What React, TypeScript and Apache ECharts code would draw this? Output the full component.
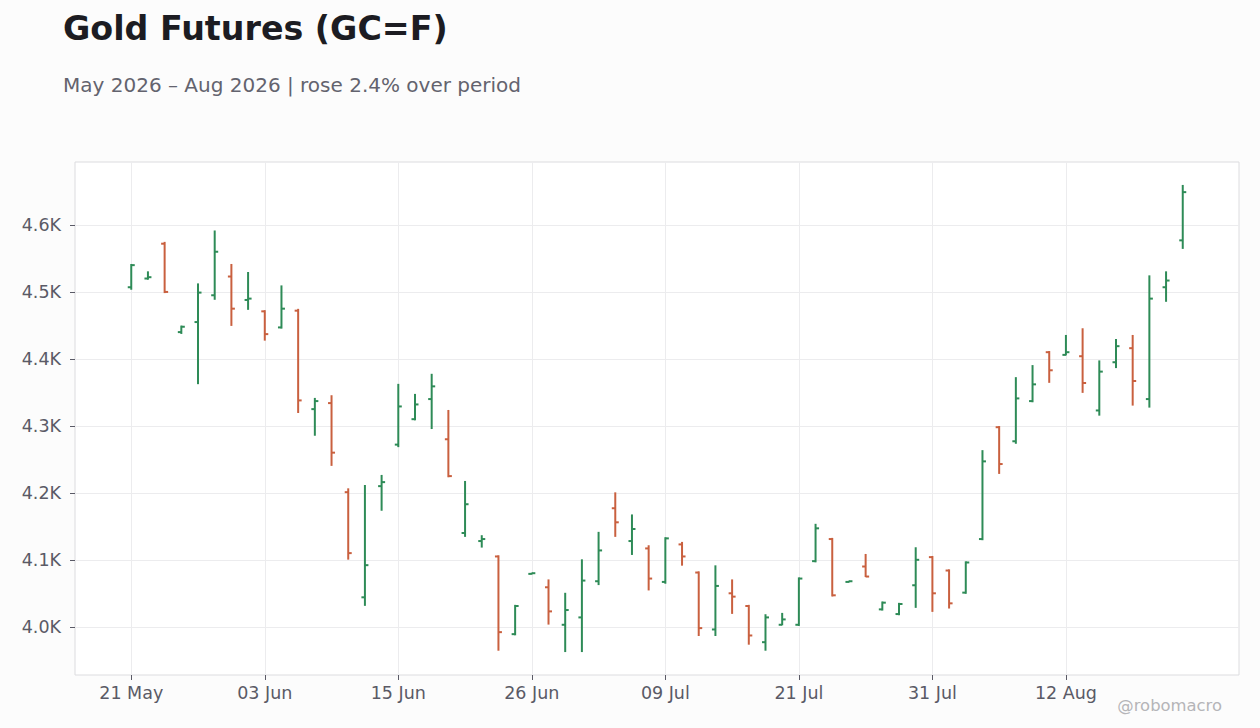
import React, { useEffect, useRef } from "react";
import * as echarts from "echarts";

const DATES = [
  "21 May", "22 May", "26 May", "27 May", "28 May", "29 May", "01 Jun", "02 Jun",
  "03 Jun", "04 Jun", "05 Jun", "08 Jun", "09 Jun", "10 Jun", "11 Jun", "12 Jun",
  "15 Jun", "16 Jun", "17 Jun", "18 Jun", "22 Jun", "23 Jun", "24 Jun", "25 Jun",
  "26 Jun", "29 Jun", "30 Jun", "01 Jul", "02 Jul", "06 Jul", "07 Jul", "08 Jul",
  "09 Jul", "10 Jul", "13 Jul", "14 Jul", "15 Jul", "16 Jul", "17 Jul", "20 Jul",
  "21 Jul", "22 Jul", "23 Jul", "24 Jul", "27 Jul", "28 Jul", "29 Jul", "30 Jul",
  "31 Jul", "03 Aug", "04 Aug", "05 Aug", "06 Aug", "07 Aug", "10 Aug", "11 Aug",
  "12 Aug", "13 Aug", "14 Aug", "17 Aug", "18 Aug", "19 Aug", "20 Aug", "21 Aug",
];

const OPEN = [
  4507, 4520, 4572, 4440, 4455, 4495, 4523, 4488, 4471, 4447, 4472, 4325, 4334, 4201, 4044, 4210,
  4272, 4310, 4340, 4280, 4140, 4128, 4105, 3989, 4079, 4059, 4003, 4014, 4068, 4177, 4128, 4117,
  4067, 4123, 4081, 3996, 4050, 4031, 3977, 4003, 4003, 4098, 4131, 4067, 4090, 4026, 4019, 4062,
  4104, 4084, 4051, 4131, 4298, 4277, 4337, 4410, 4406, 4404, 4323, 4395, 4416, 4340, 4507, 4577,
];
const HIGH = [
  4541, 4530, 4574, 4449, 4512, 4591, 4541, 4529, 4472, 4509, 4474, 4341, 4345, 4206, 4211, 4226,
  4362, 4347, 4377, 4323, 4217, 4136, 4106, 4032, 4080, 4070, 4050, 4100, 4141, 4200, 4167, 4121,
  4133, 4126, 4082, 4091, 4070, 4032, 4018, 4020, 4073, 4153, 4132, 4068, 4108, 4037, 4035, 4118,
  4105, 4085, 4097, 4263, 4299, 4372, 4390, 4411, 4435, 4445, 4397, 4429, 4435, 4524, 4530, 4659,
];
const LOW = [
  4504, 4519, 4499, 4438, 4363, 4489, 4450, 4474, 4428, 4446, 4320, 4286, 4241, 4101, 4032, 4174,
  4269, 4309, 4296, 4224, 4135, 4119, 3965, 3988, 4079, 4004, 3963, 3963, 4063, 4135, 4108, 4055,
  4065, 4092, 3987, 3987, 4020, 3974, 3965, 4003, 4002, 4097, 4046, 4067, 4075, 4025, 4018, 4029,
  4023, 4028, 4050, 4130, 4229, 4274, 4336, 4365, 4406, 4350, 4316, 4387, 4331, 4328, 4486, 4565,
];
const CLOSE = [
  4540, 4522, 4500, 4448, 4499, 4560, 4475, 4490, 4437, 4475, 4338, 4337, 4260, 4110, 4092, 4216,
  4329, 4332, 4359, 4225, 4183, 4131, 3992, 4031, 4080, 4023, 4025, 4069, 4114, 4156, 4146, 4072,
  4132, 4105, 3998, 4061, 4045, 3987, 4014, 4011, 4072, 4147, 4047, 4068, 4075, 4036, 4034, 4100,
  4050, 4035, 4096, 4247, 4243, 4341, 4362, 4383, 4410, 4364, 4381, 4419, 4367, 4490, 4517, 4649,
];

const X_TICKS = [0, 8, 16, 24, 32, 40, 48, 56];
const Y_TICKS = [4000, 4100, 4200, 4300, 4400, 4500, 4600];

const TITLE = "Gold Futures (GC=F)";
const SUBTITLE = "May 2026 \u2013 Aug 2026 | rose 2.4% over period";
const WATERMARK = "@robomacro";

const UP = "#2e8b57";
const DOWN = "#c9603f";
const FONT = "DejaVu Sans";

export default function App() {
  const ref = useRef<HTMLDivElement>(null);

  useEffect(() => {
    if (!ref.current) return;
    const chart = echarts.init(ref.current, undefined, { renderer: "svg" });
    const data = DATES.map((_, i) => [i, OPEN[i], HIGH[i], LOW[i], CLOSE[i]]);

    const option: any = {
      animation: false,
      backgroundColor: "#fcfcfc",
      textStyle: { fontFamily: FONT },
      title: [
        {
          text: TITLE,
          left: 63,
          top: 12,
          padding: 0,
          textStyle: { fontFamily: FONT, fontSize: 33.3, fontWeight: "bold", color: "#1c1c22" },
        },
        {
          text: SUBTITLE,
          left: 63,
          top: 75,
          padding: 0,
          textStyle: { fontFamily: FONT, fontSize: 20, fontWeight: "normal", color: "#63636e" },
        },
        {
          text: WATERMARK,
          right: 38,
          top: 697,
          padding: 0,
          textStyle: { fontFamily: FONT, fontSize: 16.4, fontWeight: "normal", color: "#b5b5b8" },
        },
      ],
      grid: {
        left: 75,
        top: 162,
        right: 21,
        bottom: 53,
        show: true,
        backgroundColor: "#ffffff",
        borderColor: "#dcdcdf",
        borderWidth: 1,
      },
      xAxis: {
        type: "value",
        min: -3.37,
        max: 66.37,
        axisLine: { show: false, onZero: false },
        axisTick: {
          show: true,
          customValues: X_TICKS,
          length: 5,
          lineStyle: { color: "#5a5a66", width: 1 },
        },
        axisLabel: {
          customValues: X_TICKS,
          fontFamily: FONT,
          fontSize: 17.5,
          color: "#5a5a66",
          margin: 9,
          formatter: (v: number) => (Number.isInteger(v) && DATES[v] ? DATES[v] : ""),
        },
        splitLine: { show: true, lineStyle: { color: "#ececee", width: 1 } },
      },
      yAxis: {
        type: "value",
        min: 3928,
        max: 4694,
        axisLine: { show: false, onZero: false },
        axisTick: {
          show: true,
          customValues: Y_TICKS,
          length: 5,
          lineStyle: { color: "#5a5a66", width: 1 },
        },
        axisLabel: {
          customValues: Y_TICKS,
          fontFamily: FONT,
          fontSize: 17.5,
          color: "#5a5a66",
          margin: 14,
          formatter: (v: number) => (v / 1000).toFixed(1) + "K",
        },
        splitLine: { show: true, lineStyle: { color: "#ececee", width: 1 } },
      },
      series: [
        {
          type: "custom",
          data,
          encode: { x: 0, y: [1, 2, 3, 4] },
          renderItem: (_params: any, api: any) => {
            const x = api.value(0);
            const o = api.value(1);
            const h = api.value(2);
            const l = api.value(3);
            const c = api.value(4);
            const pH = api.coord([x, h]);
            const pL = api.coord([x, l]);
            const pO = api.coord([x, o]);
            const pC = api.coord([x, c]);
            const color = c >= o ? UP : DOWN;
            const style = { stroke: color, lineWidth: 2 };
            const tick = 3.5;
            return {
              type: "group",
              children: [
                {
                  type: "line",
                  shape: { x1: pH[0], y1: pH[1] - 0.5, x2: pL[0], y2: pL[1] + 0.5 },
                  style,
                },
                {
                  type: "line",
                  shape: { x1: pO[0] - tick, y1: pO[1], x2: pO[0], y2: pO[1] },
                  style,
                },
                {
                  type: "line",
                  shape: { x1: pC[0], y1: pC[1], x2: pC[0] + tick, y2: pC[1] },
                  style,
                },
              ],
            };
          },
        },
      ],
    };

    chart.setOption(option);
    return () => chart.dispose();
  }, []);

  return (
    <div
      ref={ref}
      style={{ position: "fixed", left: 0, top: 0, width: 1260, height: 728 }}
    />
  );
}
